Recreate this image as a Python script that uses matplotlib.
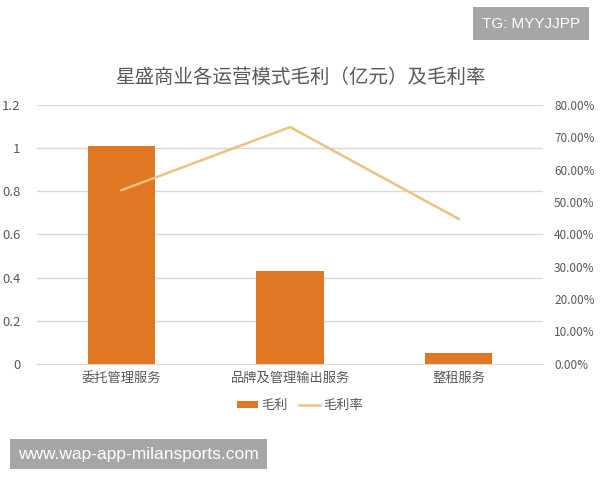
import numpy as np
import matplotlib.pyplot as plt
from matplotlib.ticker import FuncFormatter

plt.rcParams['font.family'] = ['Noto Sans CJK SC', 'DejaVu Sans']

# data
categories = ['委托管理服务', '品牌及管理输出服务', '整租服务']
gross_profit = [1.01, 0.43, 0.05]      # 亿元
gross_margin = [53.7, 73.2, 44.8]      # %
left_ticks = [0, 0.2, 0.4, 0.6, 0.8, 1.0, 1.2]
right_ticks = [0, 10, 20, 30, 40, 50, 60, 70, 80]

grey = '#595959'
bar_color = '#E07722'
line_color = '#EDC27F'

fig = plt.figure(figsize=(6, 4.8), dpi=100)
ax = fig.add_axes([0.062, 0.242, 0.843, 0.539])
x = np.arange(len(categories))

ax.bar(x, gross_profit, width=0.4, color=bar_color, label='毛利', zorder=3)
ax.set_xlim(-0.5, 2.5)
ax.set_ylim(0, 1.2)
ax.set_yticks(left_ticks)
ax.yaxis.set_major_formatter(FuncFormatter(lambda v, p: '0' if v == 0 else ('1' if v == 1 else '%.1f' % v)))
ax.set_xticks(x)
ax.set_xticklabels(categories)
ax.grid(axis='y', color='#d9d9d9', linewidth=1, zorder=0)
for s in ['top', 'right', 'left']:
    ax.spines[s].set_visible(False)
ax.spines['bottom'].set_color('#d9d9d9')
ax.tick_params(axis='both', length=0, colors=grey, labelsize=9.5)
ax.tick_params(axis='y', pad=12)
ax.tick_params(axis='x', pad=6)

ax2 = ax.twinx()
ax2.plot(x, gross_margin, color=line_color, linewidth=1.8, label='毛利率', zorder=4)
ax2.set_ylim(0, 80)
ax2.set_yticks(right_ticks)
ax2.yaxis.set_major_formatter(FuncFormatter(lambda v, p: '%.2f%%' % v))
for s in ['top', 'right', 'left', 'bottom']:
    ax2.spines[s].set_visible(False)
ax2.tick_params(axis='y', length=0, colors=grey, labelsize=8.5, pad=8)

fig.text(0.5, 0.838, '星盛商业各运营模式毛利（亿元）及毛利率', ha='center', va='center',
         fontsize=14, color=grey)

h1, l1 = ax.get_legend_handles_labels()
h2, l2 = ax2.get_legend_handles_labels()
fig.legend(h1 + h2, l1 + l2, loc='center', bbox_to_anchor=(0.5, 0.155), ncol=2,
           frameon=False, fontsize=9.5, labelcolor=grey, handlelength=1.6,
           handleheight=0.5, handletextpad=0.3, columnspacing=0.8)

# watermark boxes
fig.text(0.967, 0.951, 'TG: MYYJJPP', ha='right', va='center', fontsize=11, color='white',
         family='Liberation Sans',
         bbox=dict(boxstyle='square,pad=0.6', facecolor='#a6a6a6', edgecolor='none'))
fig.text(0.03, 0.054, 'www.wap-app-milansports.com', ha='left', va='center', fontsize=12.5,
         color='white', family='Liberation Sans',
         bbox=dict(boxstyle='square,pad=0.45', facecolor='#a6a6a6', edgecolor='none'))

fig.savefig('out.png')
